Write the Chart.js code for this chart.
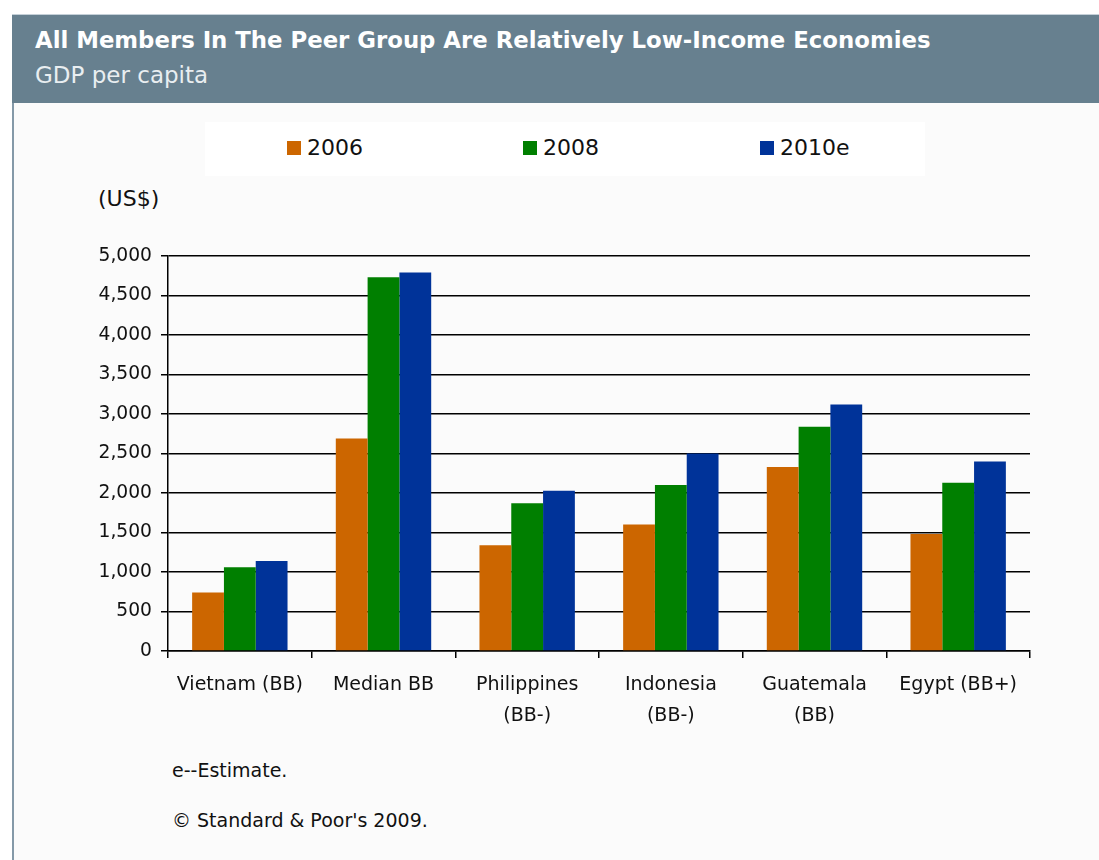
<!DOCTYPE html>
<html>
<head>
<meta charset="utf-8">
<script src="https://cdn.jsdelivr.net/npm/chart.js@4.4.1/dist/chart.umd.min.js"></script>
<style>
  html, body { margin: 0; padding: 0; }
  body { width: 1099px; height: 860px; position: relative; overflow: hidden; background: #ffffff; font-family: "DejaVu Sans", Verdana, sans-serif; }
  #panel { position: absolute; left: 12px; top: 14px; right: 0; bottom: 0; background: #fbfbfb; border-left: 2px solid #8499a8; }
  #header { position: absolute; left: 12px; top: 14px; right: 0; height: 88px; background: #67808f; border-top: 1px solid #c5d0d8; }
  #title { position: absolute; left: 35px; top: 27px; color: #fff; font-weight: bold; font-size: 22.8px; white-space: nowrap; }
  #subtitle { position: absolute; left: 35px; top: 62px; color: #e9eef1; font-size: 23px; white-space: nowrap; }
  #legendBox { position: absolute; left: 205px; top: 122px; width: 720px; height: 54px; background: #ffffff; }
  .leg { position: absolute; top: 135px; font-size: 22px; color: #111; white-space: nowrap; }
  .leg span { display: inline-block; width: 14px; height: 14px; margin-right: 6px; vertical-align: 0px; }
  .note { position: absolute; left: 172px; font-size: 19px; color: #111; white-space: nowrap; }
  #unit { position: absolute; left: 98px; top: 186px; font-size: 22px; color: #111; }
  #chartWrap { position: absolute; left: 0; top: 0; width: 1099px; height: 860px; }
</style>
</head>
<body>
<div id="panel"></div>
<div id="header"></div>
<div id="title">All Members In The Peer Group Are Relatively Low-Income Economies</div>
<div id="subtitle">GDP per capita</div>
<div id="legendBox"></div>
<div id="legend"></div>
<div id="unit">(US$)</div>
<div class="note" style="top:759px">e--Estimate.</div>
<div class="note" style="top:809px">© Standard &amp; Poor's 2009.</div>
<div id="chartWrap"><canvas id="myChart" width="1099" height="860"></canvas></div>

<script>
const categories = ["Vietnam (BB)", "Median BB", ["Philippines", "(BB-)"], ["Indonesia", "(BB-)"], ["Guatemala", "(BB)"], "Egypt (BB+)"];
const seriesNames = ["2006", "2008", "2010e"];
const values2006 = [740, 2690, 1340, 1600, 2330, 1480];
const values2008 = [1060, 4730, 1870, 2100, 2840, 2130];
const values2010 = [1140, 4790, 2030, 2500, 3120, 2400];
const seriesColors = ['#cc6600', '#007f00', '#003399'];
const yTicks = [0, 500, 1000, 1500, 2000, 2500, 3000, 3500, 4000, 4500, 5000];

// html legend
const legendEl = document.getElementById('legend');
const legendX = [287, 523, 760];
seriesNames.forEach((name, i) => {
    const d = document.createElement('div');
    d.className = 'leg';
    d.style.left = legendX[i] + 'px';
    d.innerHTML = '<span style="background:' + seriesColors[i] + '"></span>' + name;
    legendEl.appendChild(d);
});

const ctx = document.getElementById('myChart');
const allValues = [values2006, values2008, values2010];

const myChart = new Chart(ctx, {
    type: 'bar',
    data: {
        labels: categories,
        datasets: seriesNames.map((name, i) => ({
            label: name,
            data: allValues[i],
            backgroundColor: seriesColors[i],
            borderWidth: 0,
            categoryPercentage: 0.664,
            barPercentage: 1.0
        }))
    },
    options: {
        responsive: false,
        animation: false,
        layout: {
            padding: { left: 88, right: 69, top: 256, bottom: 119 }
        },
        plugins: {
            legend: { display: false },
            tooltip: { enabled: false }
        },
        scales: {
            x: {
                grid: {
                    drawOnChartArea: false,
                    drawTicks: true,
                    tickLength: 7,
                    color: '#000',
                    lineWidth: 1.5
                },
                border: { color: '#000', width: 1.5 },
                ticks: {
                    color: '#111',
                    padding: 12,
                    maxRotation: 0,
                    autoSkip: false,
                    font: { family: 'DejaVu Sans', size: 19, lineHeight: 1.63 }
                },
                afterFit: scale => { scale.height = 90; }
            },
            y: {
                min: 0,
                max: 5000,
                afterBuildTicks: scale => { scale.ticks = yTicks.map(v => ({ value: v })); },
                grid: {
                    color: '#000',
                    lineWidth: 1.5,
                    tickLength: 7
                },
                border: { color: '#000', width: 1.5 },
                ticks: {
                    color: '#111',
                    padding: 9,
                    font: { family: 'DejaVu Sans', size: 18.7 },
                    callback: v => v.toLocaleString('en-US')
                },
                afterFit: scale => { scale.width = 80; }
            }
        }
    }
});
</script>
</body>
</html>
